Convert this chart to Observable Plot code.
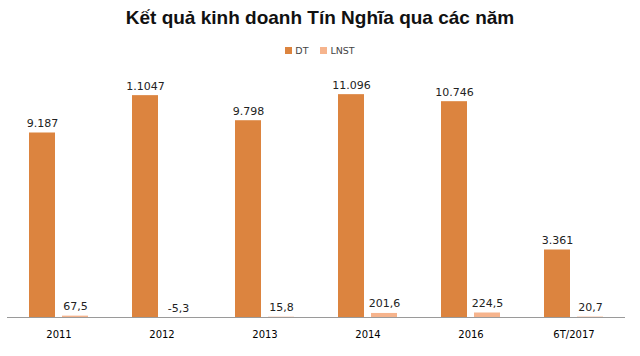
<!DOCTYPE html>
<html><head><meta charset="utf-8">
<script src="https://cdn.jsdelivr.net/npm/d3@7"></script>
<script src="https://cdn.jsdelivr.net/npm/@observablehq/plot@0.6"></script>
<style>
body{margin:0;background:#fff;font-family:"DejaVu Sans",sans-serif;width:640px;height:356px;overflow:hidden}
#title{font:bold 19px "Liberation Sans",Arial,sans-serif;text-align:center;height:36px;line-height:36px;color:#111}
#legend{height:28px;display:flex;justify-content:center;align-items:center;font-size:9.5px;color:#444;gap:12px}
#legend span.sw{display:inline-block;width:7px;height:7px;margin-right:3px;vertical-align:middle}
#legend span.it{display:inline-flex;align-items:center}
</style></head><body>
<div id="title">Kết quả kinh doanh Tín Nghĩa qua các năm</div>
<div id="legend"></div>
<div id="chart"></div>
<script>
const years = ["2011","2012","2013","2014","2016","6T/2017"];
const dtValues = [9187, 11047, 9798, 11096, 10746, 3361];
const dtLabels = ["9.187","1.1047","9.798","11.096","10.746","3.361"];
const lnstValues = [67.5, -5.3, 15.8, 201.6, 224.5, 20.7];
const lnstLabels = ["67,5","-5,3","15,8","201,6","224,5","20,7"];
const series = ["DT","LNST"];
const colors = ["#DC843F","#F6B48D"];

const rows = [];
years.forEach((y, i) => {
  rows.push({year: y, s: "DT", v: dtValues[i], label: dtLabels[i]});
  rows.push({year: y, s: "LNST", v: lnstValues[i], label: lnstLabels[i]});
});

const leg = document.getElementById("legend");
series.forEach((s, i) => {
  const it = document.createElement("span");
  it.className = "it";
  it.innerHTML = `<span class="sw" style="background:${colors[i]}"></span>${s}`;
  leg.appendChild(it);
});

const chart = Plot.plot({
  width: 640,
  height: 292,
  marginLeft: 5,
  marginRight: 13,
  marginTop: 12,
  marginBottom: 39,
  style: {fontFamily: "DejaVu Sans, sans-serif", background: "#fff"},
  fx: {domain: years, padding: 0, label: null, axis: "bottom", tickSize: 0, tickPadding: 13, fontSize: 9.5},
  x: {domain: series, axis: null, paddingInner: 0.2, paddingOuter: 0.62},
  y: {domain: [0, 12000], axis: null},
  color: {domain: series, range: colors},
  marks: [
    Plot.barY(rows, {fx: "year", x: "s", y: "v", fill: "s"}),
    Plot.ruleY([0], {stroke: "#9a9a9a", strokeWidth: 1}),
    Plot.text(rows, {fx: "year", x: "s", y: d => Math.max(d.v, 0), text: "label", lineAnchor: "bottom", dy: -6, fontSize: 11, fill: "#222"})
  ]
});
chart.style.display = "block";
document.getElementById("chart").appendChild(chart);
</script>
</body></html>
